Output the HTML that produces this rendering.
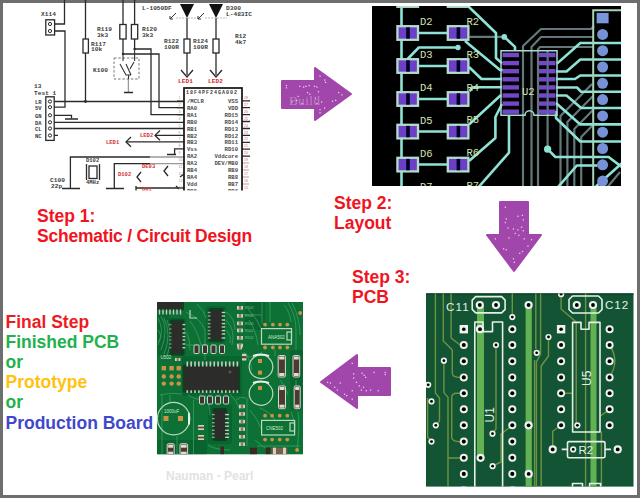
<!DOCTYPE html>
<html><head><meta charset="utf-8">
<style>
html,body{margin:0;padding:0;width:640px;height:498px;overflow:hidden;background:#6e6e6e;}
#pg{position:absolute;left:3px;top:3px;width:634px;height:492px;background:#fff;}
svg{position:absolute;left:0;top:0;}
.t{position:absolute;font-family:"Liberation Sans",sans-serif;font-weight:bold;white-space:nowrap;line-height:20.2px;}
.r{color:#f0141e;font-size:17.5px;}
</style></head><body>
<div id="pg"></div>
<svg width="640" height="498" viewBox="0 0 640 498">
<clipPath id="clipS"><rect x="0" y="0" width="260" height="190.5"/></clipPath><g id="schem" clip-path="url(#clipS)">
<g fill="none" stroke="#2a2a2a" stroke-width="1.3">
<path d="M55 24 H64.5 V0"/>
<path d="M55 31 H65 V107.2 H54"/>
<path d="M85.5 0 V101.5"/>
<path d="M123 0 V54 H159 V107.7 H184"/>
<path d="M134.6 0 V49 H151 V114.6 H184"/>
<path d="M54 101.5 H184"/>
<path d="M54 115.3 H71.5 V118.5"/>
<path d="M65 119 H78"/>
<path d="M54 122.3 H184"/>
<path d="M54 128.5 H184"/>
<path d="M54 135.4 H58"/>
<path d="M126 141.9 H184"/>
<path d="M131 137 L126 141.9 L131 146.8"/>
<path d="M155 135.4 H184"/>
<path d="M160 130.5 L155 135.4 L160 140.3"/>
<path d="M184 148.8 H174.6 V154"/>
<path d="M167 154.5 H176"/>
<path d="M70.4 188.5 V157 H150"/><path d="M150 157 H184" stroke="#999"/>
<path d="M62 188.5 H80"/>
<path d="M114.3 188.5 V163.6 H150"/><path d="M150 163.6 H184" stroke="#999"/>
<path d="M106 188.5 H124"/>
<path d="M141 172 L137 177 L141 182"/>
<path d="M168 166 L164 171 L168 176"/>
<path d="M136 186 V192 M136 188 H184"/>
<path d="M128.4 79 V92" stroke="#9a9a9a"/>
<path d="M124 92.5 H133"/>
<path d="M187 18 V75"/>
<path d="M216 18 V75"/>
<path d="M181 70 L187 77 L193 70"/>
<path d="M210 70 L216 77 L222 70"/>
<path d="M184 174 L180 177 M176 186 L179 189"/>
<path d="M242 100.8 H250 M242 107.7 H250 M242 114.6 H250 M242 121.5 H250 M242 128.5 H250 M242 135.4 H250 M242 142.3 H250 M242 149.2 H250 M242 156.2 H250"/><path d="M242 163 H249 M242 170 H249 M242 177 H249 M242 184 H249" stroke="#b0a0a0" stroke-width="1"/>
<path d="M177 101.2 H184 M177 107.7 H184 M177 114.6 H184"/>
</g>
<g fill="#fff" stroke="#2a2a2a" stroke-width="1.3">
<rect x="83" y="39" width="5.4" height="14"/>
<rect x="119.8" y="24.5" width="6.3" height="14.5"/>
<rect x="131.4" y="24.5" width="6.3" height="14.5"/>
<rect x="184" y="39" width="6" height="14"/>
<rect x="213" y="39" width="6" height="14"/>
<rect x="45.8" y="19.8" width="8.8" height="15.2"/>
<rect x="45.8" y="96.8" width="8.4" height="43.6"/>
<rect x="89" y="166" width="8" height="12.5"/>
</g>
<g font-family="Liberation Sans" font-size="3.6" fill="#d86a6a"><text x="244" y="99.0">28</text><text x="244" y="105.9">27</text><text x="244" y="112.8">26</text><text x="244" y="119.7">25</text><text x="244" y="126.6">24</text><text x="244" y="133.5">23</text><text x="244" y="140.4">22</text><text x="244" y="147.3">21</text><text x="244" y="154.2">20</text><text x="244" y="161.1">19</text><text x="244" y="168.0">18</text><text x="244" y="174.9">17</text><text x="244" y="181.8">16</text><text x="244" y="188.7">15</text></g><g font-family="Liberation Sans" font-size="3.6" fill="#a0a0a0"><text x="178.5" y="99.0">1</text><text x="178.5" y="105.9">2</text><text x="178.5" y="112.8">3</text><text x="178.5" y="119.7">4</text><text x="178.5" y="126.6">5</text><text x="178.5" y="133.5">6</text><text x="178.5" y="140.4">7</text><text x="178.5" y="147.3">8</text><text x="178.5" y="154.2">9</text><text x="178.5" y="161.1">10</text><text x="178.5" y="168.0">11</text><text x="178.5" y="174.9">12</text><text x="178.5" y="181.8">13</text><text x="178.5" y="188.7">14</text></g><rect x="184" y="88" width="58" height="110" fill="none" stroke="#1e1e1e" stroke-width="1.8"/>
<path d="M86.5 164 V180 M99.5 164 V180" stroke="#2a2a2a" stroke-width="1.3"/>
<g fill="none" stroke="#2a2a2a" stroke-width="1">
<circle cx="50" cy="24" r="1.6"/>
<circle cx="50" cy="31" r="1.6"/>
<circle cx="50" cy="101.5" r="1.6"/>
<circle cx="50" cy="107.2" r="1.6"/>
<circle cx="50" cy="115.3" r="1.6"/>
<circle cx="50" cy="122.3" r="1.6"/>
<circle cx="50" cy="128.5" r="1.6"/>
<circle cx="50" cy="135.4" r="1.6"/>
</g>
<g fill="#2a2a2a"><circle cx="85.5" cy="101.5" r="1.4"/><circle cx="123" cy="54" r="1.2"/><circle cx="134.6" cy="49" r="1.2"/></g>
<rect x="114" y="58" width="25" height="21" fill="none" stroke="#777" stroke-width="1" stroke-dasharray="2.5 1.8"/>
<path d="M123 54 V61 M134.6 49 V61 M120 64 L126 75 H131 M131 75 L126 64 M134 62 L130 69 M128.5 75 V79" fill="none" stroke="#333" stroke-width="1.1"/>
<g fill="#111"><path d="M180 4 H194 L187 18 Z"/><path d="M209 4 H223 L216 18 Z"/></g>
<path d="M176 18 H198 M205 18 H227" stroke="#aaa" stroke-width="0.8" stroke-dasharray="2 1"/>
<path d="M176 13 L170 19 M173 19 H170 V16 M204 13 L198 19 M201 19 H198 V16" stroke="#333" stroke-width="1" fill="none"/>
<text x="41" y="16" font-family="Liberation Mono" font-size="6.2" font-weight="bold" fill="#3c3c3c" text-anchor="start">X114</text>
<text x="97" y="30.5" font-family="Liberation Mono" font-size="6.2" font-weight="bold" fill="#3c3c3c" text-anchor="start">R119</text>
<text x="97" y="37" font-family="Liberation Mono" font-size="6.2" font-weight="bold" fill="#3c3c3c" text-anchor="start">3k3</text>
<text x="91" y="45.5" font-family="Liberation Mono" font-size="6.2" font-weight="bold" fill="#3c3c3c" text-anchor="start">R117</text>
<text x="91" y="51" font-family="Liberation Mono" font-size="6.2" font-weight="bold" fill="#3c3c3c" text-anchor="start">10k</text>
<text x="93" y="71.5" font-family="Liberation Mono" font-size="6.2" font-weight="bold" fill="#3c3c3c" text-anchor="start">K100</text>
<text x="142" y="31" font-family="Liberation Mono" font-size="6.2" font-weight="bold" fill="#3c3c3c" text-anchor="start">R120</text>
<text x="142" y="37" font-family="Liberation Mono" font-size="6.2" font-weight="bold" fill="#3c3c3c" text-anchor="start">3k3</text>
<text x="142" y="10" font-family="Liberation Mono" font-size="6.2" font-weight="bold" fill="#3c3c3c" text-anchor="start">L-1050DF</text>
<text x="226" y="10" font-family="Liberation Mono" font-size="6.2" font-weight="bold" fill="#3c3c3c" text-anchor="start">D300</text>
<text x="226" y="16" font-family="Liberation Mono" font-size="6.2" font-weight="bold" fill="#3c3c3c" text-anchor="start">L-483IC</text>
<text x="164" y="43" font-family="Liberation Mono" font-size="6.2" font-weight="bold" fill="#3c3c3c" text-anchor="start">R122</text>
<text x="164" y="49" font-family="Liberation Mono" font-size="6.2" font-weight="bold" fill="#3c3c3c" text-anchor="start">100R</text>
<text x="193" y="43" font-family="Liberation Mono" font-size="6.2" font-weight="bold" fill="#3c3c3c" text-anchor="start">R124</text>
<text x="193" y="49" font-family="Liberation Mono" font-size="6.2" font-weight="bold" fill="#3c3c3c" text-anchor="start">100R</text>
<text x="235" y="38" font-family="Liberation Mono" font-size="6.2" font-weight="bold" fill="#3c3c3c" text-anchor="start">R12</text>
<text x="235" y="44" font-family="Liberation Mono" font-size="6.2" font-weight="bold" fill="#3c3c3c" text-anchor="start">4k7</text>
<text x="178" y="83" font-family="Liberation Mono" font-size="6.2" font-weight="bold" fill="#d23030" text-anchor="start">LED1</text>
<text x="208" y="83" font-family="Liberation Mono" font-size="6.2" font-weight="bold" fill="#d23030" text-anchor="start">LED2</text>
<text x="34" y="88" font-family="Liberation Mono" font-size="6.2" font-weight="bold" fill="#3c3c3c" text-anchor="start">13</text>
<text x="34" y="94.5" font-family="Liberation Mono" font-size="6.2" font-weight="bold" fill="#3c3c3c" text-anchor="start">Test 1</text>
<text x="35" y="103.5" font-family="Liberation Mono" font-size="5.5" font-weight="bold" fill="#3c3c3c" text-anchor="start">LR</text>
<text x="35" y="109.5" font-family="Liberation Mono" font-size="5.5" font-weight="bold" fill="#3c3c3c" text-anchor="start">5V</text>
<text x="35" y="117.5" font-family="Liberation Mono" font-size="5.5" font-weight="bold" fill="#3c3c3c" text-anchor="start">GN</text>
<text x="35" y="124.5" font-family="Liberation Mono" font-size="5.5" font-weight="bold" fill="#3c3c3c" text-anchor="start">DA</text>
<text x="35" y="130.5" font-family="Liberation Mono" font-size="5.5" font-weight="bold" fill="#3c3c3c" text-anchor="start">CL</text>
<text x="35" y="137.5" font-family="Liberation Mono" font-size="5.5" font-weight="bold" fill="#3c3c3c" text-anchor="start">NC</text>
<text x="106" y="143.5" font-family="Liberation Mono" font-size="5.5" font-weight="bold" fill="#d23030" text-anchor="start">LED1</text>
<text x="140" y="137" font-family="Liberation Mono" font-size="5.5" font-weight="bold" fill="#d23030" text-anchor="start">LED2</text>
<text x="50" y="182" font-family="Liberation Mono" font-size="6.2" font-weight="bold" fill="#3c3c3c" text-anchor="start">C100</text>
<text x="51" y="188" font-family="Liberation Mono" font-size="6.2" font-weight="bold" fill="#3c3c3c" text-anchor="start">22p</text>
<text x="86" y="162" font-family="Liberation Mono" font-size="5.5" font-weight="bold" fill="#3c3c3c" text-anchor="start">D102</text>
<text x="86" y="184" font-family="Liberation Mono" font-size="5.5" font-weight="bold" fill="#3c3c3c" text-anchor="start">4MHz</text>
<text x="118" y="176" font-family="Liberation Mono" font-size="5.5" font-weight="bold" fill="#d23030" text-anchor="start">D102</text>
<text x="142" y="168" font-family="Liberation Mono" font-size="5.5" font-weight="bold" fill="#d23030" text-anchor="start">DE03</text>
<text x="142" y="191" font-family="Liberation Mono" font-size="5.5" font-weight="bold" fill="#d23030" text-anchor="start">D01</text>
<text x="186" y="93.5" font-family="Liberation Mono" font-size="5" font-weight="bold" fill="#3c3c3c" text-anchor="start" letter-spacing="1">18F4PF24GA002</text>
<text x="187" y="103.0" font-family="Liberation Mono" font-size="5.6" font-weight="bold" fill="#4a4a4a" text-anchor="start">/MCLR</text>
<text x="238" y="103.0" font-family="Liberation Mono" font-size="5.6" font-weight="bold" fill="#4a4a4a" text-anchor="end">VSS</text>
<text x="187" y="109.9" font-family="Liberation Mono" font-size="5.6" font-weight="bold" fill="#4a4a4a" text-anchor="start">RA0</text>
<text x="238" y="109.9" font-family="Liberation Mono" font-size="5.6" font-weight="bold" fill="#4a4a4a" text-anchor="end">VDD</text>
<text x="187" y="116.8" font-family="Liberation Mono" font-size="5.6" font-weight="bold" fill="#4a4a4a" text-anchor="start">RA1</text>
<text x="238" y="116.8" font-family="Liberation Mono" font-size="5.6" font-weight="bold" fill="#4a4a4a" text-anchor="end">RD15</text>
<text x="187" y="123.7" font-family="Liberation Mono" font-size="5.6" font-weight="bold" fill="#4a4a4a" text-anchor="start">RB0</text>
<text x="238" y="123.7" font-family="Liberation Mono" font-size="5.6" font-weight="bold" fill="#4a4a4a" text-anchor="end">RD14</text>
<text x="187" y="130.6" font-family="Liberation Mono" font-size="5.6" font-weight="bold" fill="#4a4a4a" text-anchor="start">RB1</text>
<text x="238" y="130.6" font-family="Liberation Mono" font-size="5.6" font-weight="bold" fill="#4a4a4a" text-anchor="end">RD13</text>
<text x="187" y="137.5" font-family="Liberation Mono" font-size="5.6" font-weight="bold" fill="#4a4a4a" text-anchor="start">RB2</text>
<text x="238" y="137.5" font-family="Liberation Mono" font-size="5.6" font-weight="bold" fill="#4a4a4a" text-anchor="end">RD12</text>
<text x="187" y="144.4" font-family="Liberation Mono" font-size="5.6" font-weight="bold" fill="#4a4a4a" text-anchor="start">RB3</text>
<text x="238" y="144.4" font-family="Liberation Mono" font-size="5.6" font-weight="bold" fill="#4a4a4a" text-anchor="end">RD11</text>
<text x="187" y="151.3" font-family="Liberation Mono" font-size="5.6" font-weight="bold" fill="#4a4a4a" text-anchor="start">Vss</text>
<text x="238" y="151.3" font-family="Liberation Mono" font-size="5.6" font-weight="bold" fill="#4a4a4a" text-anchor="end">RD10</text>
<text x="187" y="158.2" font-family="Liberation Mono" font-size="5.6" font-weight="bold" fill="#4a4a4a" text-anchor="start">RA2</text>
<text x="238" y="158.2" font-family="Liberation Mono" font-size="5.6" font-weight="bold" fill="#4a4a4a" text-anchor="end">Vddcore</text>
<text x="187" y="165.1" font-family="Liberation Mono" font-size="5.6" font-weight="bold" fill="#4a4a4a" text-anchor="start">RA3</text>
<text x="238" y="165.1" font-family="Liberation Mono" font-size="5.6" font-weight="bold" fill="#4a4a4a" text-anchor="end">DEV/MB0</text>
<text x="187" y="172.0" font-family="Liberation Mono" font-size="5.6" font-weight="bold" fill="#4a4a4a" text-anchor="start">RB4</text>
<text x="238" y="172.0" font-family="Liberation Mono" font-size="5.6" font-weight="bold" fill="#4a4a4a" text-anchor="end">RB9</text>
<text x="187" y="178.9" font-family="Liberation Mono" font-size="5.6" font-weight="bold" fill="#4a4a4a" text-anchor="start">RA4</text>
<text x="238" y="178.9" font-family="Liberation Mono" font-size="5.6" font-weight="bold" fill="#4a4a4a" text-anchor="end">RB8</text>
<text x="187" y="185.8" font-family="Liberation Mono" font-size="5.6" font-weight="bold" fill="#4a4a4a" text-anchor="start">Vdd</text>
<text x="238" y="185.8" font-family="Liberation Mono" font-size="5.6" font-weight="bold" fill="#4a4a4a" text-anchor="end">RB7</text>
<text x="187" y="192.7" font-family="Liberation Mono" font-size="5.6" font-weight="bold" fill="#4a4a4a" text-anchor="start">RB5</text>
<text x="238" y="192.7" font-family="Liberation Mono" font-size="5.6" font-weight="bold" fill="#4a4a4a" text-anchor="end">RB6</text>
</g>
<g id="layout">
  <rect x="372" y="6" width="249" height="180" fill="#000"/>
  <clipPath id="clipL"><rect x="372" y="6" width="249" height="180"/></clipPath>
  <g clip-path="url(#clipL)">
  <!-- gray inner-layer traces -->
  <g fill="none" stroke="#62787a" stroke-width="2.2" stroke-linejoin="round">
    <path d="M523 190 V46 L541 29 H591 L594 26"/>
    <path d="M531.5 190 V47 L541 37 H594"/>
    <path d="M538 190 V49 L540 47 H594"/>
    <path d="M547.6 50 V149"/>
    <path d="M560.5 190 V116 L592 84"/>
    <path d="M567.4 190 V122 L593 96"/>
    <path d="M574.3 190 V129 L593 110"/>
    <path d="M581.2 190 V137 L593 125"/>
    <path d="M469.4 36.9 H504"/>
    <path d="M605 190 L620 172"/>
  </g>
  <!-- cyan traces -->
  <g fill="none" stroke="#8fe3d6" stroke-width="2.6" stroke-linejoin="round">
    <path d="M401.5 0 V190"/>
    <path d="M419 33 H447 M419 66 H447 M419 99 H447 M419 131.5 H447 M419 164.5 H447 M419 0 H447"/>
    <path d="M468 6 L496 33 V58 L502 63.4"/>
    <path d="M407.6 59 L418.8 47.5 H458"/>
    <path d="M465 41 L500 70 H503"/>
    <path d="M469 67 L481.5 79 H502"/>
    <path d="M469.5 91 L473 87.3 H502"/>
    <path d="M469 124.5 L501 95"/>
    <path d="M469 161 L495.4 138 V117 L502 104"/>
    <path d="M476 190 L509 152.6 V115"/>
    <path d="M504.3 36.9 L515 46.9 V51"/>
    <path d="M557 63.6 L580.3 43 H622"/>
    <path d="M556 71.5 H566.5 L580.3 59.5 H622"/>
    <path d="M556 79 H575 L580.3 75.5 H622"/>
    <path d="M556 87.5 H577 L581.2 91.8 H622"/>
    <path d="M556 95.5 H566.5 L581.2 108 H622"/>
    <path d="M556 103 L580.3 124.4 H622"/>
    <path d="M556 111 V118 L580.3 141.5 H622"/>
    <path d="M547.6 149.2 L555.4 157 H608.6 L622 167"/>
    <path d="M555.4 190 L576.9 165.5 H597.5"/>
    <path d="M592 190 L622 163"/>
  </g>
  <g fill="#8fe3d6">
    <circle cx="458" cy="47.5" r="2.7"/>
    <circle cx="504.3" cy="36.9" r="2.9"/>
    <circle cx="547.6" cy="149.2" r="3.6"/>
  </g>
  <!-- connector -->
  <path d="M593.2 190 V10.3 H622" fill="none" stroke="#a9d3b6" stroke-width="2"/>
  <rect x="596.6" y="12.9" width="12" height="10.4" fill="#7b97dc"/>
  <g fill="#7791d6">
    <circle cx="602.6" cy="34.4" r="5.5"/><circle cx="602.6" cy="50.7" r="5.5"/>
    <circle cx="602.6" cy="67" r="5.5"/><circle cx="602.6" cy="83.3" r="5.5"/>
    <circle cx="602.6" cy="99.6" r="5.5"/><circle cx="602.6" cy="115.9" r="5.5"/>
    <circle cx="602.6" cy="132.2" r="5.5"/><circle cx="602.6" cy="148.5" r="5.5"/>
    <circle cx="602.6" cy="164.8" r="5.5"/><circle cx="602.6" cy="181.1" r="5.5"/>
  </g>
  <!-- IC U2 -->
  <path d="M501 115.3 V50.7 H557 V115.3 H534 A4.5 4.5 0 0 0 525 115.3 Z" fill="none" stroke="#a6dcd2" stroke-width="1.5"/>
  <g fill="#7446c8">
    <rect x="502.5" y="52.8" width="16.5" height="4.4"/><rect x="502.5" y="60.9" width="16.5" height="4.4"/>
    <rect x="502.5" y="69" width="16.5" height="4.4"/><rect x="502.5" y="77.1" width="16.5" height="4.4"/>
    <rect x="502.5" y="85.2" width="16.5" height="4.4"/><rect x="502.5" y="93.3" width="16.5" height="4.4"/>
    <rect x="502.5" y="101.4" width="16.5" height="4.4"/><rect x="502.5" y="109.5" width="16.5" height="4.4"/>
    <rect x="539" y="52.8" width="16.5" height="4.4"/><rect x="539" y="60.9" width="16.5" height="4.4"/>
    <rect x="539" y="69" width="16.5" height="4.4"/><rect x="539" y="77.1" width="16.5" height="4.4"/>
    <rect x="539" y="85.2" width="16.5" height="4.4"/><rect x="539" y="93.3" width="16.5" height="4.4"/>
    <rect x="539" y="101.4" width="16.5" height="4.4"/><rect x="539" y="109.5" width="16.5" height="4.4"/>
  </g>
  <path d="M547.6 52 V114" stroke="#5a6f8a" stroke-width="1.2"/>
  <!-- pad pairs -->
  
  <rect x="397.4" y="-6.8" width="20.6" height="13.6" fill="#6d3fc6" stroke="#b2dccb" stroke-width="2.3"/><rect x="406.2" y="-5.7" width="3.6" height="11.4" fill="#000024"/><rect x="447.8" y="-6.8" width="20.6" height="13.6" fill="#6d3fc6" stroke="#b2dccb" stroke-width="2.3"/><rect x="456.6" y="-5.7" width="3.6" height="11.4" fill="#000024"/>
  <rect x="397.4" y="26.2" width="20.6" height="13.6" fill="#6d3fc6" stroke="#b2dccb" stroke-width="2.3"/><rect x="406.2" y="27.3" width="3.6" height="11.4" fill="#000024"/><rect x="447.8" y="26.2" width="20.6" height="13.6" fill="#6d3fc6" stroke="#b2dccb" stroke-width="2.3"/><rect x="456.6" y="27.3" width="3.6" height="11.4" fill="#000024"/>
  <rect x="397.4" y="59.2" width="20.6" height="13.6" fill="#6d3fc6" stroke="#b2dccb" stroke-width="2.3"/><rect x="406.2" y="60.3" width="3.6" height="11.4" fill="#000024"/><rect x="447.8" y="59.2" width="20.6" height="13.6" fill="#6d3fc6" stroke="#b2dccb" stroke-width="2.3"/><rect x="456.6" y="60.3" width="3.6" height="11.4" fill="#000024"/>
  <rect x="397.4" y="92.2" width="20.6" height="13.6" fill="#6d3fc6" stroke="#b2dccb" stroke-width="2.3"/><rect x="406.2" y="93.3" width="3.6" height="11.4" fill="#000024"/><rect x="447.8" y="92.2" width="20.6" height="13.6" fill="#6d3fc6" stroke="#b2dccb" stroke-width="2.3"/><rect x="456.6" y="93.3" width="3.6" height="11.4" fill="#000024"/>
  <rect x="397.4" y="124.8" width="20.6" height="13.6" fill="#6d3fc6" stroke="#b2dccb" stroke-width="2.3"/><rect x="406.2" y="125.9" width="3.6" height="11.4" fill="#000024"/><rect x="447.8" y="124.8" width="20.6" height="13.6" fill="#6d3fc6" stroke="#b2dccb" stroke-width="2.3"/><rect x="456.6" y="125.9" width="3.6" height="11.4" fill="#000024"/>
  <rect x="397.4" y="157.8" width="20.6" height="13.6" fill="#6d3fc6" stroke="#b2dccb" stroke-width="2.3"/><rect x="406.2" y="158.9" width="3.6" height="11.4" fill="#000024"/><rect x="447.8" y="157.8" width="20.6" height="13.6" fill="#6d3fc6" stroke="#b2dccb" stroke-width="2.3"/><rect x="456.6" y="158.9" width="3.6" height="11.4" fill="#000024"/>
  <rect x="397.4" y="190.8" width="20.6" height="13.6" fill="#6d3fc6" stroke="#b2dccb" stroke-width="2.3"/><rect x="406.2" y="191.9" width="3.6" height="11.4" fill="#000024"/><rect x="447.8" y="190.8" width="20.6" height="13.6" fill="#6d3fc6" stroke="#b2dccb" stroke-width="2.3"/><rect x="456.6" y="191.9" width="3.6" height="11.4" fill="#000024"/>
  <g font-family="Liberation Mono" font-size="10.5" fill="#d3e2b6">
    <text x="420" y="25.3">D2</text><text x="466.5" y="24.6">R2</text>
    <text x="420" y="58.3">D3</text><text x="466.5" y="57.6">R3</text>
    <text x="420" y="91.3">D4</text><text x="466.5" y="90.6">R4</text>
    <text x="420" y="124">D5</text><text x="466.5" y="123.3">R5</text>
    <text x="420" y="157">D6</text><text x="466.5" y="156.3">R6</text>
    <text x="420" y="190">D7</text><text x="466.5" y="189.3">R7</text>
    <text x="522" y="95.2">U2</text>
  </g>
  </g>
</g>

<g id="pcb3">
<rect x="426" y="293.4" width="207.5" height="193.2" fill="#125434"/><rect x="426" y="293.4" width="207.5" height="1.2" fill="#0a3a20"/>
<clipPath id="clipP3"><rect x="426" y="293.4" width="207.5" height="193.2"/></clipPath>
<g clip-path="url(#clipP3)">
<g fill="#62b253">
<rect x="477" y="305" width="7" height="153"/>
<rect x="525.6" y="305" width="6.2" height="185"/>
<rect x="590.5" y="305" width="6" height="185"/>
</g>
<g fill="none" stroke="#6e9440" stroke-width="1.4" stroke-linejoin="round">
<path d="M435.4 290 V393 L439.5 398 V421 L435.8 425.3"/>
<path d="M443.3 290 V341 L452.3 350 V373 Q452.3 377.5 460 377.5"/>
<path d="M451.1 290 V338 L460.1 345"/>
<path d="M443.9 360.7 V392.6 L448 397.4 V490"/>
<path d="M463.8 393.2 H456.5 Q451.7 393.2 451.7 398 V437.3 Q451.7 441.7 460 441.7"/>
<path d="M448 458 H463.8"/>
<path d="M427.6 398 V437 L431.5 441.6"/>
<path d="M512.3 290 V317"/>
<path d="M496 345 V429 L492.5 433.7"/>
<path d="M512.3 425.3 L501 434 V462 L492.6 466.2"/>
<path d="M535.8 290 V349"/>
<path d="M540.6 290 V354 L536.4 362 V490"/>
<path d="M548.5 337 V356 L541.2 366 V490"/>
<path d="M561.1 290 V309 L576.2 322 V425.3"/>
<path d="M585.6 290 V490"/>
<path d="M601.4 431.6 V490"/>
<path d="M609.6 345 Q620 361 609.6 377"/>
<path d="M609.6 409.7 L600.3 416"/>
<path d="M561.1 393.2 H572.6"/>
<path d="M552.7 449.4 V431.3 L561.1 425.3"/>
<path d="M534.6 360 V490"/>
</g>
<g fill="none" stroke="#e6efe6" stroke-width="1.6" stroke-linejoin="round">
<path d="M475.7 296.6 H501.6 L505.1 300.1 V309.4 L501.6 312.9 H475.7 L472.2 309.4 V300.1 Z"/>
<path d="M572.5 296 H598.5 L602 299.5 V309.5 L598.5 313 H572.5 L569 309.5 V299.5 Z"/>
<path d="M474.8 490 V322 H483 V331.6 H492.5 V322 H502.6 V490"/>
<path d="M572.6 432 V322.4 H581 V329.2 H589 V322.4 H600 V432 Z"/>
<rect x="567.5" y="441.6" width="37.5" height="16.2" rx="1.5"/>
<path d="M561.7 449.4 H567.5 M605 449.4 H611"/>
<rect x="572.5" y="483.5" width="10" height="6"/><rect x="589.6" y="483.5" width="11" height="6"/>
</g>
<rect x="459.6" y="325.0" width="8.4" height="8.4" fill="#eef3ee"/><circle cx="463.8" cy="329.2" r="1.8" fill="#000"/>
<circle cx="512.3" cy="329.2" r="4" fill="#eef3ee"/><circle cx="512.3" cy="329.2" r="2.05" fill="#000"/>
<circle cx="463.8" cy="345" r="4" fill="#eef3ee"/><circle cx="463.8" cy="345" r="2.05" fill="#000"/>
<circle cx="512.3" cy="345" r="4" fill="#eef3ee"/><circle cx="512.3" cy="345" r="2.05" fill="#000"/>
<circle cx="463.8" cy="361.2" r="4" fill="#eef3ee"/><circle cx="463.8" cy="361.2" r="2.05" fill="#000"/>
<circle cx="512.3" cy="361.2" r="4" fill="#eef3ee"/><circle cx="512.3" cy="361.2" r="2.05" fill="#000"/>
<circle cx="463.8" cy="377.4" r="4" fill="#eef3ee"/><circle cx="463.8" cy="377.4" r="2.05" fill="#000"/>
<circle cx="512.3" cy="377.4" r="4" fill="#eef3ee"/><circle cx="512.3" cy="377.4" r="2.05" fill="#000"/>
<circle cx="463.8" cy="393.3" r="4" fill="#eef3ee"/><circle cx="463.8" cy="393.3" r="2.05" fill="#000"/>
<circle cx="512.3" cy="393.3" r="4" fill="#eef3ee"/><circle cx="512.3" cy="393.3" r="2.05" fill="#000"/>
<circle cx="463.8" cy="409.2" r="4" fill="#eef3ee"/><circle cx="463.8" cy="409.2" r="2.05" fill="#000"/>
<circle cx="512.3" cy="409.2" r="4" fill="#eef3ee"/><circle cx="512.3" cy="409.2" r="2.05" fill="#000"/>
<circle cx="463.8" cy="425.3" r="4" fill="#eef3ee"/><circle cx="463.8" cy="425.3" r="2.05" fill="#000"/>
<circle cx="512.3" cy="425.3" r="4" fill="#eef3ee"/><circle cx="512.3" cy="425.3" r="2.05" fill="#000"/>
<circle cx="463.8" cy="441.6" r="4" fill="#eef3ee"/><circle cx="463.8" cy="441.6" r="2.05" fill="#000"/>
<circle cx="512.3" cy="441.6" r="4" fill="#eef3ee"/><circle cx="512.3" cy="441.6" r="2.05" fill="#000"/>
<circle cx="463.8" cy="457.8" r="4" fill="#eef3ee"/><circle cx="463.8" cy="457.8" r="2.05" fill="#000"/>
<circle cx="512.3" cy="457.8" r="4" fill="#eef3ee"/><circle cx="512.3" cy="457.8" r="2.05" fill="#000"/>
<circle cx="463.8" cy="473.9" r="4" fill="#eef3ee"/><circle cx="463.8" cy="473.9" r="2.05" fill="#000"/>
<circle cx="512.3" cy="473.9" r="4" fill="#eef3ee"/><circle cx="512.3" cy="473.9" r="2.05" fill="#000"/>
<circle cx="463.8" cy="490" r="4" fill="#eef3ee"/><circle cx="463.8" cy="490" r="2.05" fill="#000"/>
<circle cx="512.3" cy="490" r="4" fill="#eef3ee"/><circle cx="512.3" cy="490" r="2.05" fill="#000"/>
<rect x="556.9" y="325.0" width="8.4" height="8.4" fill="#eef3ee"/><circle cx="561.1" cy="329.2" r="1.8" fill="#000"/>
<circle cx="609.6" cy="329.2" r="4" fill="#eef3ee"/><circle cx="609.6" cy="329.2" r="2.05" fill="#000"/>
<circle cx="561.1" cy="345" r="4" fill="#eef3ee"/><circle cx="561.1" cy="345" r="2.05" fill="#000"/>
<circle cx="609.6" cy="345" r="4" fill="#eef3ee"/><circle cx="609.6" cy="345" r="2.05" fill="#000"/>
<circle cx="561.1" cy="361.2" r="4" fill="#eef3ee"/><circle cx="561.1" cy="361.2" r="2.05" fill="#000"/>
<circle cx="609.6" cy="361.2" r="4" fill="#eef3ee"/><circle cx="609.6" cy="361.2" r="2.05" fill="#000"/>
<circle cx="561.1" cy="377.4" r="4" fill="#eef3ee"/><circle cx="561.1" cy="377.4" r="2.05" fill="#000"/>
<circle cx="609.6" cy="377.4" r="4" fill="#eef3ee"/><circle cx="609.6" cy="377.4" r="2.05" fill="#000"/>
<circle cx="561.1" cy="393.3" r="4" fill="#eef3ee"/><circle cx="561.1" cy="393.3" r="2.05" fill="#000"/>
<circle cx="609.6" cy="393.3" r="4" fill="#eef3ee"/><circle cx="609.6" cy="393.3" r="2.05" fill="#000"/>
<circle cx="561.1" cy="409.2" r="4" fill="#eef3ee"/><circle cx="561.1" cy="409.2" r="2.05" fill="#000"/>
<circle cx="609.6" cy="409.2" r="4" fill="#eef3ee"/><circle cx="609.6" cy="409.2" r="2.05" fill="#000"/>
<circle cx="561.1" cy="425.3" r="4" fill="#eef3ee"/><circle cx="561.1" cy="425.3" r="2.05" fill="#000"/>
<circle cx="609.6" cy="425.3" r="4" fill="#eef3ee"/><circle cx="609.6" cy="425.3" r="2.05" fill="#000"/>
<circle cx="479.8" cy="305" r="4.1" fill="#eef3ee"/><circle cx="479.8" cy="305" r="1.9" fill="#000"/>
<circle cx="496" cy="305" r="4.1" fill="#eef3ee"/><circle cx="496" cy="305" r="1.9" fill="#000"/>
<circle cx="576.8" cy="305" r="4.1" fill="#eef3ee"/><circle cx="576.8" cy="305" r="1.9" fill="#000"/>
<circle cx="593" cy="305" r="4.1" fill="#eef3ee"/><circle cx="593" cy="305" r="1.9" fill="#000"/>
<circle cx="528.6" cy="305" r="4.1" fill="#eef3ee"/><circle cx="528.6" cy="305" r="1.9" fill="#000"/>
<circle cx="480" cy="329.2" r="4.1" fill="#eef3ee"/><circle cx="480" cy="329.2" r="1.9" fill="#000"/>
<circle cx="480.6" cy="457.8" r="4.1" fill="#eef3ee"/><circle cx="480.6" cy="457.8" r="1.9" fill="#000"/>
<circle cx="528.6" cy="425.3" r="4.1" fill="#eef3ee"/><circle cx="528.6" cy="425.3" r="1.9" fill="#000"/>
<circle cx="528.7" cy="473.9" r="4.1" fill="#eef3ee"/><circle cx="528.7" cy="473.9" r="1.9" fill="#000"/>
<circle cx="552.7" cy="449.4" r="4.1" fill="#eef3ee"/><circle cx="552.7" cy="449.4" r="1.9" fill="#000"/>
<circle cx="617.7" cy="449.4" r="4.1" fill="#eef3ee"/><circle cx="617.7" cy="449.4" r="1.9" fill="#000"/>
<circle cx="496" cy="345" r="3.1" fill="#eef3ee"/><circle cx="496" cy="345" r="1.4" fill="#000"/>
<circle cx="512.3" cy="317.1" r="3.1" fill="#eef3ee"/><circle cx="512.3" cy="317.1" r="1.4" fill="#000"/>
<circle cx="536.7" cy="352.8" r="3.1" fill="#eef3ee"/><circle cx="536.7" cy="352.8" r="1.4" fill="#000"/>
<circle cx="548.5" cy="337" r="3.1" fill="#eef3ee"/><circle cx="548.5" cy="337" r="1.4" fill="#000"/>
<circle cx="561.1" cy="294.2" r="3.1" fill="#eef3ee"/><circle cx="561.1" cy="294.2" r="1.4" fill="#000"/>
<circle cx="492.5" cy="433.7" r="3.1" fill="#eef3ee"/><circle cx="492.5" cy="433.7" r="1.4" fill="#000"/>
<circle cx="492.6" cy="466.2" r="3.1" fill="#eef3ee"/><circle cx="492.6" cy="466.2" r="1.4" fill="#000"/>
<circle cx="443.9" cy="360.7" r="3.1" fill="#eef3ee"/><circle cx="443.9" cy="360.7" r="1.4" fill="#000"/>
<circle cx="428.2" cy="384.8" r="3.1" fill="#eef3ee"/><circle cx="428.2" cy="384.8" r="1.4" fill="#000"/>
<circle cx="431.5" cy="401.4" r="3.1" fill="#eef3ee"/><circle cx="431.5" cy="401.4" r="1.4" fill="#000"/>
<circle cx="435.8" cy="425.3" r="3.1" fill="#eef3ee"/><circle cx="435.8" cy="425.3" r="1.4" fill="#000"/>
<circle cx="431.5" cy="441.6" r="3.1" fill="#eef3ee"/><circle cx="431.5" cy="441.6" r="1.4" fill="#000"/>
<circle cx="577.4" cy="425.3" r="3.1" fill="#eef3ee"/><circle cx="577.4" cy="425.3" r="1.4" fill="#000"/>
<circle cx="573.2" cy="449.4" r="3.1" fill="#eef3ee"/><circle cx="573.2" cy="449.4" r="1.4" fill="#000"/>
<g font-family="Liberation Sans" fill="#e6efe6">
<text x="446" y="310.6" font-size="11.6" letter-spacing="1.2">C11</text>
<text x="605" y="308.8" font-size="11.6" letter-spacing="1">C12</text>
<text x="578.5" y="454" font-size="11.5">R2</text>
<text transform="translate(493.8 422.5) rotate(-90)" font-size="12">U1</text>
<text transform="translate(590.8 386) rotate(-90)" font-size="12">U5</text>
</g>
</g></g>
<g id="final">
<rect x="157" y="302" width="146" height="152.3" fill="#0f7238"/>
<clipPath id="clipF"><rect x="157" y="302" width="146" height="152.3"/></clipPath>
<g clip-path="url(#clipF)">
<g fill="#0a5a2a" opacity="0.55">
<rect x="157" y="312" width="12" height="45" rx="3"/>
<rect x="168" y="318" width="18" height="38" rx="3"/>
<rect x="206" y="306" width="20" height="37" rx="3"/>
<rect x="182" y="356" width="60" height="40" rx="3"/>
<rect x="208" y="404" width="24" height="40" rx="3"/>
<rect x="157" y="440" width="50" height="15" rx="3"/>
<rect x="245" y="300" width="20" height="30" rx="3"/>
<rect x="290" y="350" width="13" height="60" rx="3"/>
</g>
<g fill="none" stroke="#3da062" stroke-width="0.9" opacity="0.85">
<path d="M158 318 Q165 330 158 345"/>
<path d="M161 316 Q169 330 161 350"/>
<path d="M164 318 Q172 335 164 354"/>
<path d="M167 320 Q174 337 167 356"/>
<path d="M158 330 Q163 336 158 342"/>
<path d="M186 312 Q200 318 205 330 V360"/>
<path d="M190 321 Q197 330 201 345"/>
<path d="M186 345 H207"/>
<path d="M197 304 Q204 310 206 318"/>
<path d="M226 312 Q235 318 235 330"/>
<path d="M226 320 Q236 330 232 345"/>
<path d="M226 330 Q232 336 230 343"/>
<path d="M248 309 Q258 320 262 330"/>
<path d="M249 320 Q256 330 258 345"/>
<path d="M244 315 H262"/>
<path d="M262 302 V324"/>
<path d="M270 302 V322"/>
<path d="M244 352 Q250 358 252 370"/>
<path d="M288 303 Q296 315 296 330 V350"/>
<path d="M292 303 Q300 318 300 335"/>
<path d="M284 305 Q290 312 291 322"/>
<path d="M162 395 V454"/>
<path d="M177 436 V454"/>
<path d="M193.5 400 V454"/>
<path d="M170 395 V402"/>
<path d="M205 395 Q210 405 210 415"/>
<path d="M230 394 Q238 402 240 410"/>
<path d="M200 394 V400"/>
<path d="M250 410 Q258 420 262 430"/>
<path d="M255 440 Q262 446 268 450"/>
<path d="M247 398 V446"/>
<path d="M280 380 Q285 385 288 395"/>
<path d="M296 380 V400"/>
<path d="M298 412 Q300 425 297 450"/>
<path d="M245 355 Q255 360 262 352"/>
<path d="M188 395 Q195 400 205 400"/>
<path d="M275 350 V356"/>
<path d="M260 408 Q270 412 275 420"/>
<path d="M291 412 Q294 420 295 426"/>
<path d="M257 446 H300"/>
<path d="M208 445 Q215 450 230 450"/>
<path d="M236 400 Q240 396 246 398"/>
<path d="M184 330 Q190 335 190 350"/>
<path d="M160 395 Q170 392 182 394"/>
</g>
<g fill="none" stroke="#cde6cd" stroke-width="1.2" opacity="0.9">
<circle cx="173.6" cy="418.6" r="16.2"/>
<circle cx="261" cy="366.8" r="11.8"/>
<circle cx="261" cy="393.5" r="11.8"/>
<rect x="261.5" y="328.6" width="30" height="15.6"/>
<rect x="261.6" y="420.4" width="33" height="14.6"/>
<rect x="287" y="332" width="4.5" height="8"/>
<rect x="290" y="423" width="4.5" height="8"/>
<path d="M190 310 V318 H197"/>
</g>
<g fill="none" stroke="#e8f2e8" stroke-width="2">
<path d="M253 356 Q261 353 269 356"/><path d="M253 383 Q261 380 269 383"/>
</g>
<rect x="188" y="412.8" width="2" height="11.7" fill="#e8f0e8"/>
<g fill="#0e3a1a" opacity="0.8">
<rect x="169.5" y="319.5" width="14.8" height="36" rx="2"/>
<rect x="208.5" y="308" width="15.2" height="33.7" rx="2"/>
<rect x="182.5" y="364.5" width="57.5" height="28" rx="2"/>
<rect x="212.6" y="408" width="14.5" height="33" rx="2"/>
<rect x="155" y="301" width="29" height="9.5" rx="2"/>
</g>
<g fill="#2c2c2a">
<rect x="157" y="302" width="25" height="6.5"/>
<rect x="171.6" y="321.6" width="10.6" height="31.7" rx="1"/>
<rect x="210.5" y="310" width="11.2" height="29.7" rx="1"/>
<rect x="184.2" y="366.5" width="54" height="23.8" rx="1"/>
<rect x="214.6" y="410" width="10.5" height="29" rx="1"/>
</g>
<g fill="#c8ccc4">
<rect x="158.8" y="309.5" width="1.4" height="5"/>
<rect x="162.3" y="309.5" width="1.4" height="5"/>
<rect x="165.8" y="309.5" width="1.4" height="5"/>
<rect x="169.3" y="309.5" width="1.4" height="5"/>
<rect x="172.8" y="309.5" width="1.4" height="5"/>
<rect x="176.3" y="309.5" width="1.4" height="5"/>
<rect x="179.8" y="309.5" width="1.4" height="5"/>
<rect x="182.5" y="323.90000000000003" width="2.8" height="1.4"/>
<rect x="169" y="323.90000000000003" width="2.6" height="1.4" opacity="0.5"/>
<rect x="182.5" y="328.3" width="2.8" height="1.4"/>
<rect x="169" y="328.3" width="2.6" height="1.4" opacity="0.5"/>
<rect x="182.5" y="332.3" width="2.8" height="1.4"/>
<rect x="169" y="332.3" width="2.6" height="1.4" opacity="0.5"/>
<rect x="182.5" y="335.90000000000003" width="2.8" height="1.4"/>
<rect x="169" y="335.90000000000003" width="2.6" height="1.4" opacity="0.5"/>
<rect x="182.5" y="339.3" width="2.8" height="1.4"/>
<rect x="169" y="339.3" width="2.6" height="1.4" opacity="0.5"/>
<rect x="182.5" y="343.3" width="2.8" height="1.4"/>
<rect x="169" y="343.3" width="2.6" height="1.4" opacity="0.5"/>
<rect x="182.5" y="347.0" width="2.8" height="1.4"/>
<rect x="169" y="347.0" width="2.6" height="1.4" opacity="0.5"/>
<rect x="221.7" y="311.8" width="3.5" height="1.4"/>
<rect x="207.8" y="311.8" width="2.7" height="1.4" opacity="0.7"/>
<rect x="221.7" y="315.3" width="3.5" height="1.4"/>
<rect x="207.8" y="315.3" width="2.7" height="1.4" opacity="0.7"/>
<rect x="221.7" y="319.3" width="3.5" height="1.4"/>
<rect x="207.8" y="319.3" width="2.7" height="1.4" opacity="0.7"/>
<rect x="221.7" y="322.90000000000003" width="3.5" height="1.4"/>
<rect x="207.8" y="322.90000000000003" width="2.7" height="1.4" opacity="0.7"/>
<rect x="221.7" y="326.3" width="3.5" height="1.4"/>
<rect x="207.8" y="326.3" width="2.7" height="1.4" opacity="0.7"/>
<rect x="221.7" y="329.90000000000003" width="3.5" height="1.4"/>
<rect x="207.8" y="329.90000000000003" width="2.7" height="1.4" opacity="0.7"/>
<rect x="221.7" y="333.3" width="3.5" height="1.4"/>
<rect x="207.8" y="333.3" width="2.7" height="1.4" opacity="0.7"/>
<rect x="221.7" y="337.3" width="3.5" height="1.4"/>
<rect x="207.8" y="337.3" width="2.7" height="1.4" opacity="0.7"/>
<rect x="186.5" y="361.5" width="1.6" height="5"/>
<rect x="186.5" y="390.3" width="1.6" height="2.6"/>
<rect x="190.35" y="361.5" width="1.6" height="5"/>
<rect x="190.35" y="390.3" width="1.6" height="2.6"/>
<rect x="194.2" y="361.5" width="1.6" height="5"/>
<rect x="194.2" y="390.3" width="1.6" height="2.6"/>
<rect x="198.05" y="361.5" width="1.6" height="5"/>
<rect x="198.05" y="390.3" width="1.6" height="2.6"/>
<rect x="201.9" y="361.5" width="1.6" height="5"/>
<rect x="201.9" y="390.3" width="1.6" height="2.6"/>
<rect x="205.75" y="361.5" width="1.6" height="5"/>
<rect x="205.75" y="390.3" width="1.6" height="2.6"/>
<rect x="209.6" y="361.5" width="1.6" height="5"/>
<rect x="209.6" y="390.3" width="1.6" height="2.6"/>
<rect x="213.45" y="361.5" width="1.6" height="5"/>
<rect x="213.45" y="390.3" width="1.6" height="2.6"/>
<rect x="217.3" y="361.5" width="1.6" height="5"/>
<rect x="217.3" y="390.3" width="1.6" height="2.6"/>
<rect x="221.15" y="361.5" width="1.6" height="5"/>
<rect x="221.15" y="390.3" width="1.6" height="2.6"/>
<rect x="225.0" y="361.5" width="1.6" height="5"/>
<rect x="225.0" y="390.3" width="1.6" height="2.6"/>
<rect x="228.85" y="361.5" width="1.6" height="5"/>
<rect x="228.85" y="390.3" width="1.6" height="2.6"/>
<rect x="232.7" y="361.5" width="1.6" height="5"/>
<rect x="232.7" y="390.3" width="1.6" height="2.6"/>
<rect x="236.55" y="361.5" width="1.6" height="5"/>
<rect x="236.55" y="390.3" width="1.6" height="2.6"/>
<rect x="225.1" y="413.90000000000003" width="3.8" height="1.4"/>
<rect x="212" y="413.90000000000003" width="2.6" height="1.4" opacity="0.7"/>
<rect x="225.1" y="417.90000000000003" width="3.8" height="1.4"/>
<rect x="212" y="417.90000000000003" width="2.6" height="1.4" opacity="0.7"/>
<rect x="225.1" y="422.0" width="3.8" height="1.4"/>
<rect x="212" y="422.0" width="2.6" height="1.4" opacity="0.7"/>
<rect x="225.1" y="425.5" width="3.8" height="1.4"/>
<rect x="212" y="425.5" width="2.6" height="1.4" opacity="0.7"/>
<rect x="225.1" y="429.6" width="3.8" height="1.4"/>
<rect x="212" y="429.6" width="2.6" height="1.4" opacity="0.7"/>
<rect x="225.1" y="433.1" width="3.8" height="1.4"/>
<rect x="212" y="433.1" width="2.6" height="1.4" opacity="0.7"/>
<rect x="225.1" y="436.6" width="3.8" height="1.4"/>
<rect x="212" y="436.6" width="2.6" height="1.4" opacity="0.7"/>
</g>
<circle cx="230" cy="372" r="1.5" fill="#555"/>
<rect x="237" y="306" width="6" height="3.6" fill="#d8d0bc"/>
<rect x="238.8" y="306" width="2.4000000000000004" height="3.6" fill="#8a7a66"/>
<rect x="237" y="314" width="6" height="3.6" fill="#d8d0bc"/>
<rect x="238.8" y="314" width="2.4000000000000004" height="3.6" fill="#8a7a66"/>
<rect x="237" y="321.6" width="6" height="3.6" fill="#d8d0bc"/>
<rect x="238.8" y="321.6" width="2.4000000000000004" height="3.6" fill="#8a7a66"/>
<rect x="237" y="328.6" width="6" height="3.6" fill="#d8d0bc"/>
<rect x="238.8" y="328.6" width="2.4000000000000004" height="3.6" fill="#8a7a66"/>
<rect x="237" y="336" width="6" height="3.6" fill="#d8d0bc"/>
<rect x="238.8" y="336" width="2.4000000000000004" height="3.6" fill="#8a7a66"/>
<rect x="237" y="343.7" width="6" height="3.6" fill="#d8d0bc"/>
<rect x="238.8" y="343.7" width="2.4000000000000004" height="3.6" fill="#8a7a66"/>
<rect x="239" y="404.7" width="6" height="3.5" fill="#d8d0bc"/>
<rect x="240.8" y="404.7" width="2.4000000000000004" height="3.5" fill="#8a7a66"/>
<rect x="239" y="412.2" width="6" height="3.5" fill="#d8d0bc"/>
<rect x="240.8" y="412.2" width="2.4000000000000004" height="3.5" fill="#8a7a66"/>
<rect x="239" y="419.8" width="6" height="3.5" fill="#d8d0bc"/>
<rect x="240.8" y="419.8" width="2.4000000000000004" height="3.5" fill="#8a7a66"/>
<rect x="239" y="427.4" width="6" height="3.5" fill="#d8d0bc"/>
<rect x="240.8" y="427.4" width="2.4000000000000004" height="3.5" fill="#8a7a66"/>
<rect x="239" y="435" width="6" height="3.5" fill="#d8d0bc"/>
<rect x="240.8" y="435" width="2.4000000000000004" height="3.5" fill="#8a7a66"/>
<rect x="239" y="442.5" width="6" height="3.5" fill="#d8d0bc"/>
<rect x="240.8" y="442.5" width="2.4000000000000004" height="3.5" fill="#8a7a66"/>
<rect x="175" y="358" width="5.4" height="3" fill="#d8d0bc"/>
<rect x="176.62" y="358" width="2.16" height="3" fill="#8a7a66"/>
<rect x="237.5" y="345" width="4.5" height="4.4" fill="#d8d0bc"/>
<rect x="238.85" y="345" width="1.8" height="4.4" fill="#8a7a66"/>
<rect x="242" y="353.8" width="4.4" height="6.7" fill="#d8d0bc"/>
<rect x="242" y="356.011" width="4.4" height="2.278" fill="#5a4a3a"/>
<rect x="198" y="425" width="6" height="5" fill="#d8d0bc"/>
<rect x="198" y="426.65" width="6" height="1.7000000000000002" fill="#5a4a3a"/>
<rect x="198" y="435" width="6" height="5" fill="#d8d0bc"/>
<rect x="198" y="436.65" width="6" height="1.7000000000000002" fill="#5a4a3a"/>
<rect x="194" y="345" width="5" height="8.5" rx="1" fill="#3b3430" stroke="#dfe4dc" stroke-width="0.9"/>
<rect x="202.5" y="345" width="5" height="8.5" rx="1" fill="#3b3430" stroke="#dfe4dc" stroke-width="0.9"/>
<rect x="211" y="345" width="5" height="8.5" rx="1" fill="#3b3430" stroke="#dfe4dc" stroke-width="0.9"/>
<rect x="219.5" y="345" width="5" height="8.5" rx="1" fill="#3b3430" stroke="#dfe4dc" stroke-width="0.9"/>
<rect x="199.5" y="396" width="5" height="8" rx="1" fill="#3b3430" stroke="#dfe4dc" stroke-width="0.9"/>
<rect x="207.5" y="396" width="5" height="8" rx="1" fill="#3b3430" stroke="#dfe4dc" stroke-width="0.9"/>
<rect x="215.5" y="396" width="5" height="8" rx="1" fill="#3b3430" stroke="#dfe4dc" stroke-width="0.9"/>
<rect x="223.5" y="396" width="5" height="8" rx="1" fill="#3b3430" stroke="#dfe4dc" stroke-width="0.9"/>
<rect x="278.2" y="355.5" width="7.2" height="21.5" rx="1.2" fill="#4a3a30" stroke="#e6e8e2" stroke-width="0.9"/>
<rect x="279.2" y="356.5" width="5.2" height="3" fill="#e0dcd0"/>
<rect x="279.2" y="373.0" width="5.2" height="3" fill="#e0dcd0"/>
<rect x="293" y="355.5" width="6.7" height="21.5" rx="1.2" fill="#4a3a30" stroke="#e6e8e2" stroke-width="0.9"/>
<rect x="294" y="356.5" width="4.7" height="3" fill="#e0dcd0"/>
<rect x="294" y="373.0" width="4.7" height="3" fill="#e0dcd0"/>
<rect x="278.5" y="386" width="7" height="22.7" rx="1.2" fill="#4a3a30" stroke="#e6e8e2" stroke-width="0.9"/>
<rect x="279.5" y="387" width="5" height="3" fill="#e0dcd0"/>
<rect x="279.5" y="404.7" width="5" height="3" fill="#e0dcd0"/>
<rect x="294.2" y="386" width="6" height="22.7" rx="1.2" fill="#4a3a30" stroke="#e6e8e2" stroke-width="0.9"/>
<rect x="295.2" y="387" width="4" height="3" fill="#e0dcd0"/>
<rect x="295.2" y="404.7" width="4" height="3" fill="#e0dcd0"/>
<rect x="167.2" y="443.7" width="7" height="12" rx="1.2" fill="#4a3a30" stroke="#e6e8e2" stroke-width="0.9"/>
<rect x="168.2" y="444.7" width="5" height="3" fill="#e0dcd0"/>
<rect x="168.2" y="451.7" width="5" height="3" fill="#e0dcd0"/>
<rect x="180" y="443.7" width="7.6" height="12" rx="1.2" fill="#4a3a30" stroke="#e6e8e2" stroke-width="0.9"/>
<rect x="181" y="444.7" width="5.6" height="3" fill="#e0dcd0"/>
<rect x="181" y="451.7" width="5.6" height="3" fill="#e0dcd0"/>
<g fill="#3a2a22">
<rect x="220.4" y="446.6" width="3.6" height="8"/>
<rect x="265.7" y="447.7" width="4.7" height="7"/>
<rect x="250" y="447.7" width="7" height="7"/>
</g>
<rect x="271.5" y="447.7" width="15.8" height="7" fill="#7a6048"/><rect x="273" y="447.7" width="3" height="7" fill="#d8d0c0"/><rect x="283" y="447.7" width="3" height="7" fill="#d8d0c0"/>
<g fill="#c99448">
<rect x="161.60000000000002" y="366" width="4.4" height="4.4"/>
<circle cx="163.8" cy="376.5" r="2.2"/><circle cx="163.8" cy="383.6" r="2.2"/>
<rect x="169.4" y="366" width="4.4" height="4.4"/>
<circle cx="171.6" cy="376.5" r="2.2"/><circle cx="171.6" cy="383.6" r="2.2"/>
<rect x="176.5" y="366" width="4.4" height="4.4"/>
<circle cx="178.7" cy="376.5" r="2.2"/><circle cx="178.7" cy="383.6" r="2.2"/>
<circle cx="265" cy="324.6" r="1.9"/><circle cx="265" cy="347.5" r="1.9"/>
<circle cx="272.9" cy="324.6" r="1.9"/><circle cx="272.9" cy="347.5" r="1.9"/>
<circle cx="280" cy="324.6" r="1.9"/><circle cx="280" cy="347.5" r="1.9"/>
<circle cx="287.3" cy="324.6" r="1.9"/><circle cx="287.3" cy="347.5" r="1.9"/>
<circle cx="265.1" cy="415.7" r="1.9"/><circle cx="265.1" cy="439.6" r="1.9"/>
<circle cx="272.1" cy="415.7" r="1.9"/><circle cx="272.1" cy="439.6" r="1.9"/>
<circle cx="279.7" cy="415.7" r="1.9"/><circle cx="279.7" cy="439.6" r="1.9"/>
<circle cx="287.3" cy="415.7" r="1.9"/><circle cx="287.3" cy="439.6" r="1.9"/>
<circle cx="300.2" cy="313" r="1.9"/><circle cx="297.1" cy="450" r="1.9"/>
<rect x="163.5" y="416" width="5" height="5"/><rect x="178" y="416" width="5" height="5"/>
<rect x="258" y="359" width="4" height="4"/><rect x="258" y="370.6" width="4" height="4"/>
<rect x="258" y="386" width="4" height="4"/>
</g>
<g font-family="Liberation Sans" fill="#cfe8cf" font-size="4.5">
<text x="164" y="413">1000uF</text><text x="160.5" y="359">U502</text>
<text x="268" y="339">ANA502</text><text x="266" y="430">CNE502</text>
</g>
<g font-family="Liberation Sans" fill="#7fc48a" font-size="3.5">
<text x="245" y="309">R502</text>
<text x="245" y="317">R502</text>
<text x="245" y="324.5">R502</text>
<text x="245" y="331.5">R502</text>
<text x="245" y="339">R502</text>
</g>
</g></g>
  <!-- arrows -->
  <g fill="#a146aa" stroke="#a146aa" stroke-width="2" stroke-linejoin="round">
  <path d="M282 81 H315 V68 L351 94 L315 120 V108 H282 Z"/>
  <path d="M500 202 H528 V235 H541 L514 271 L487 235 H500 Z"/>
  <path d="M390 368 V395 H357 V408 L321 382 L357 355 V368 Z"/>
  </g>
  <g fill="#f2e6f2" opacity="0.85"><rect x="285.8" y="84.9" width="1.3" height="1.3"/><rect x="285.8" y="87.2" width="1.3" height="1.3"/><rect x="299.1" y="85.7" width="1.3" height="1.3"/><rect x="303.0" y="86.4" width="1.3" height="1.3"/><rect x="305.3" y="85.7" width="1.3" height="1.3"/><rect x="308.5" y="84.9" width="1.3" height="1.3"/><rect x="313.9" y="85.7" width="1.3" height="1.3"/><rect x="316.3" y="86.4" width="1.3" height="1.3"/><rect x="319.4" y="75.5" width="1.3" height="1.3"/><rect x="324.1" y="79.4" width="1.3" height="1.3"/><rect x="324.9" y="81.7" width="1.3" height="1.3"/><rect x="338.1" y="91.9" width="1.3" height="1.3"/><rect x="341.3" y="94.2" width="1.3" height="1.3"/><rect x="344.4" y="102.8" width="1.3" height="1.3"/><rect x="331.9" y="100.5" width="1.3" height="1.3"/><rect x="335.0" y="99.7" width="1.3" height="1.3"/><rect x="319.4" y="109.1" width="1.3" height="1.3"/><rect x="319.4" y="112.2" width="1.3" height="1.3"/><rect x="324.1" y="107.5" width="1.3" height="1.3"/><rect x="306.9" y="91.9" width="1.3" height="1.3"/><rect x="309.2" y="93.5" width="1.3" height="1.3"/><rect x="314.7" y="97.4" width="1.3" height="1.3"/><rect x="317.8" y="91.1" width="1.3" height="1.3"/><rect x="316.3" y="102.8" width="1.3" height="1.3"/><rect x="321.0" y="101.3" width="1.3" height="1.3"/><rect x="301.4" y="102.8" width="1.3" height="1.3"/><rect x="297.5" y="95.8" width="1.3" height="1.3"/><rect x="291.3" y="101.3" width="1.3" height="1.3"/><rect x="296.0" y="99.7" width="1.3" height="1.3"/><rect x="504.7" y="206.6" width="1.3" height="1.3"/><rect x="505.6" y="218.3" width="1.3" height="1.3"/><rect x="504.7" y="221.9" width="1.3" height="1.3"/><rect x="507.4" y="227.4" width="1.3" height="1.3"/><rect x="512.8" y="228.3" width="1.3" height="1.3"/><rect x="517.3" y="215.6" width="1.3" height="1.3"/><rect x="521.8" y="214.7" width="1.3" height="1.3"/><rect x="522.7" y="219.2" width="1.3" height="1.3"/><rect x="517.3" y="229.2" width="1.3" height="1.3"/><rect x="520.9" y="226.5" width="1.3" height="1.3"/><rect x="522.7" y="230.1" width="1.3" height="1.3"/><rect x="514.6" y="232.8" width="1.3" height="1.3"/><rect x="518.2" y="234.6" width="1.3" height="1.3"/><rect x="523.6" y="238.2" width="1.3" height="1.3"/><rect x="494.7" y="238.2" width="1.3" height="1.3"/><rect x="530.9" y="239.1" width="1.3" height="1.3"/><rect x="502.9" y="248.2" width="1.3" height="1.3"/><rect x="505.6" y="249.1" width="1.3" height="1.3"/><rect x="512.8" y="258.1" width="1.3" height="1.3"/><rect x="513.7" y="261.7" width="1.3" height="1.3"/><rect x="519.1" y="252.7" width="1.3" height="1.3"/><rect x="521.8" y="250.9" width="1.3" height="1.3"/><rect x="527.3" y="245.5" width="1.3" height="1.3"/><rect x="508.3" y="237.3" width="1.3" height="1.3"/><rect x="351.6" y="362.7" width="1.3" height="1.3"/><rect x="351.6" y="398.5" width="1.3" height="1.3"/><rect x="327.0" y="381.7" width="1.3" height="1.3"/><rect x="329.8" y="382.4" width="1.3" height="1.3"/><rect x="339.6" y="382.4" width="1.3" height="1.3"/><rect x="334.0" y="386.6" width="1.3" height="1.3"/><rect x="336.8" y="389.4" width="1.3" height="1.3"/><rect x="343.9" y="393.6" width="1.3" height="1.3"/><rect x="346.0" y="395.0" width="1.3" height="1.3"/><rect x="353.0" y="373.2" width="1.3" height="1.3"/><rect x="353.0" y="377.5" width="1.3" height="1.3"/><rect x="361.4" y="372.5" width="1.3" height="1.3"/><rect x="363.5" y="374.6" width="1.3" height="1.3"/><rect x="365.0" y="376.7" width="1.3" height="1.3"/><rect x="355.8" y="381.7" width="1.3" height="1.3"/><rect x="358.6" y="385.2" width="1.3" height="1.3"/><rect x="362.8" y="386.6" width="1.3" height="1.3"/><rect x="360.7" y="389.4" width="1.3" height="1.3"/><rect x="365.7" y="390.1" width="1.3" height="1.3"/><rect x="369.9" y="389.4" width="1.3" height="1.3"/><rect x="377.6" y="390.1" width="1.3" height="1.3"/><rect x="373.4" y="371.8" width="1.3" height="1.3"/><rect x="384.6" y="371.8" width="1.3" height="1.3"/><rect x="384.6" y="373.9" width="1.3" height="1.3"/><rect x="351.6" y="390.1" width="1.3" height="1.3"/></g>
  <text x="289" y="105" font-family="Liberation Serif" font-size="13" letter-spacing="0.5" fill="#ecdcee" opacity="0.38">Build</text>
</svg>
<div class="t r" style="left:37px;top:205.5px;">Step 1:<br><span style="letter-spacing:-0.22px">Schematic / Circuit Design</span></div>
<div class="t r" style="left:334px;top:192.5px;">Step 2:<br>Layout</div>
<div class="t r" style="left:352px;top:266.7px;">Step 3:<br>PCB</div>
<div class="t" style="left:5.5px;top:311.5px;font-size:17.5px;">
<span style="color:#ed1c24">Final Step</span><br>
<span style="color:#22b14c">Finished PCB</span><br>
<span style="color:#22b14c">or</span><br>
<span style="color:#ffc20e">Prototype</span><br>
<span style="color:#22b14c">or</span><br>
<span style="color:#3f48cc">Production Board</span></div>
<div class="t" style="left:166px;top:466px;font-size:12px;color:#e2e2e2;">Nauman - Pearl</div>
</body></html>
